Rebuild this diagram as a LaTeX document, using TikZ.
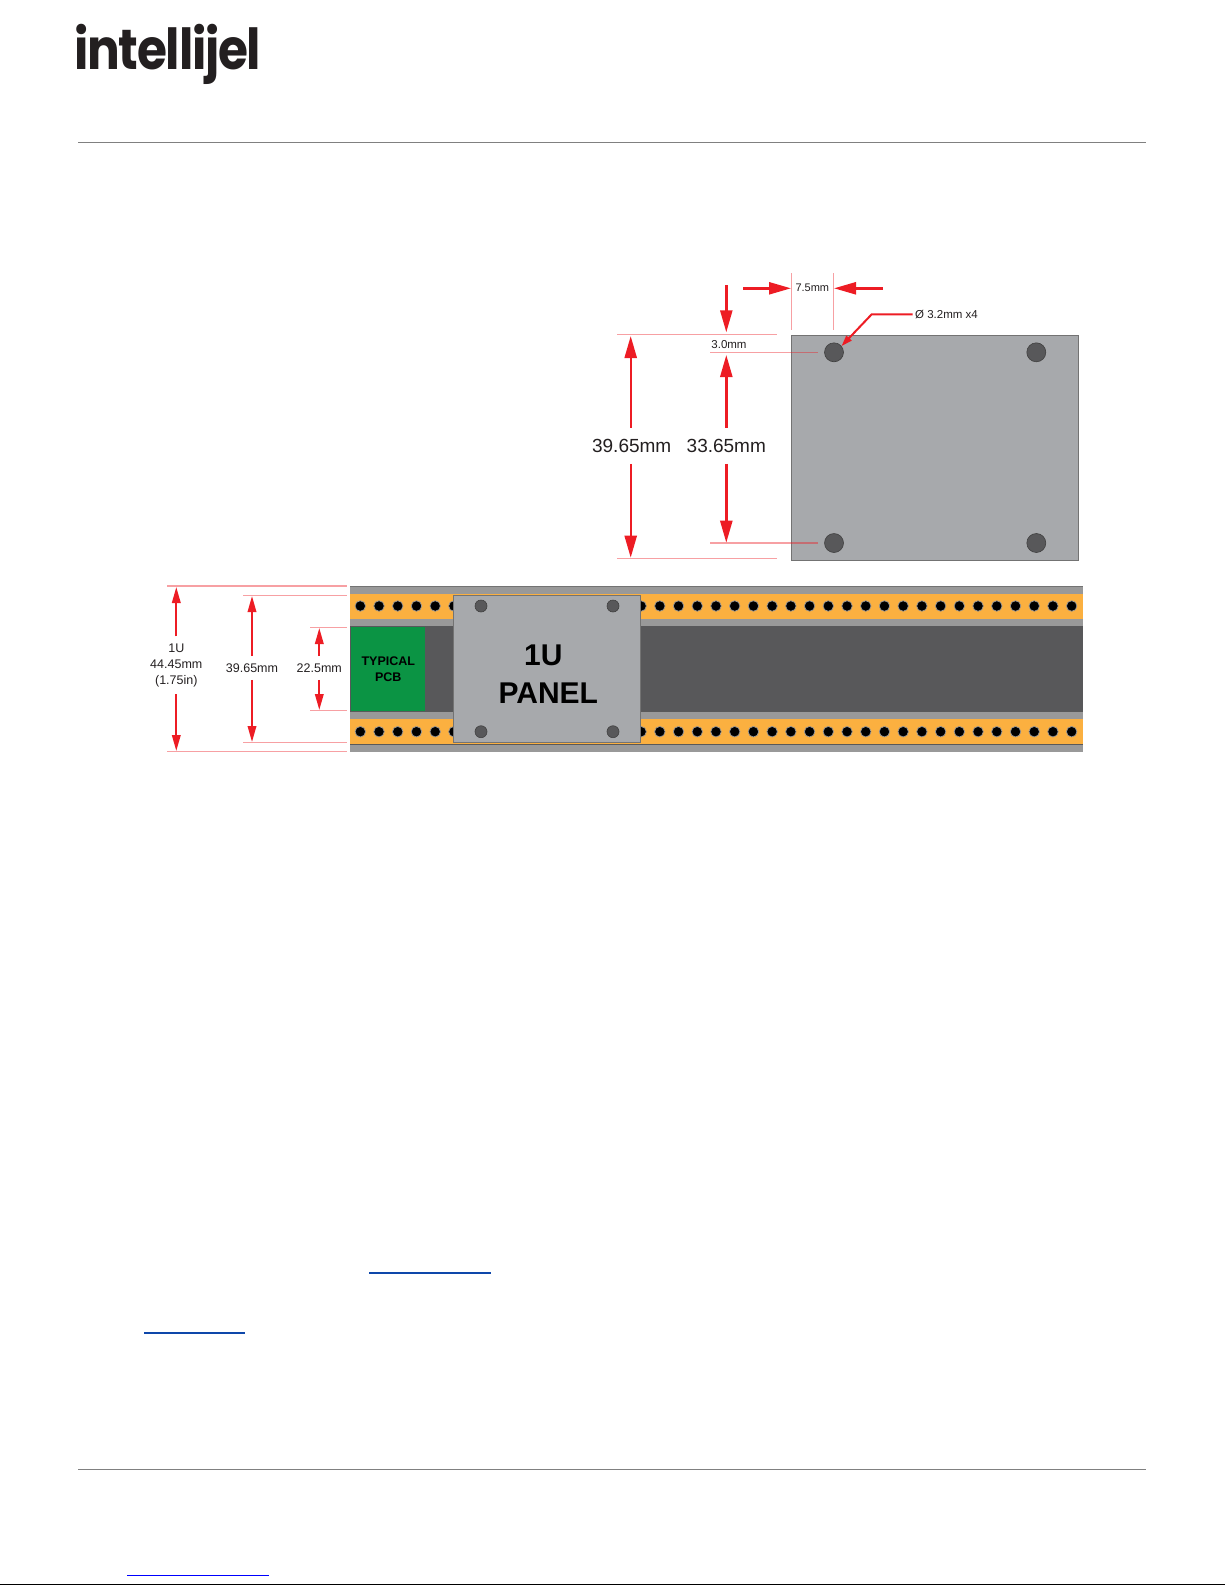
\documentclass[tikz,border=0pt]{standalone}
\usepackage{fontspec}
\usepackage{xcolor}
\usepackage{tikz}
\usetikzlibrary{arrows.meta}
\setmainfont{Liberation Sans}
\newfontfamily\logofont[FakeStretch=0.86,LetterSpace=-2.2]{Poppins}
\definecolor{dimred}{HTML}{ED1C24}
\definecolor{panelgrey}{HTML}{A7A9AC}
\definecolor{railgrey}{HTML}{999999}
\definecolor{railorange}{HTML}{FBB040}
\definecolor{caseDark}{HTML}{58585A}
\definecolor{pcbgreen}{HTML}{0B9444}
\definecolor{inkdark}{HTML}{231F20}
\tikzset{
	dimbig/.style={draw=dimred, line width=2.4pt, -{Triangle[length=22pt,width=12pt]}},
	dimsmall/.style={draw=dimred, line width=1.9pt, -{Triangle[length=16pt,width=8.5pt]}},
	extline/.style={draw=dimred, line width=1.2pt, opacity=0.42},
	lbl/.style={inner sep=0pt, text=inkdark, align=center},
	panelhole/.style={circle, draw=black!75, line width=0.6pt, fill=caseDark, inner sep=0pt},
	railhole/.style={circle, draw=railgrey, line width=0.7pt, fill=black, inner sep=0pt, minimum size=10.5pt}
}
\begin{document}
\begin{tikzpicture}[x=1pt,y=-1pt]
			\useasboundingbox (0,0) rectangle (1225,1585);
			\node[inner sep=0pt, anchor=base west, text=inkdark] at (74,69.3) (logo){\logofont\fontsize{56.5}{58}\selectfont\bfseries intellijel};
			\coordinate (ruleAl) at (78,142.7);
			\coordinate (ruleAr) at (1146,142.7);
			\coordinate (ruleBl) at (78,1469.3);
			\coordinate (ruleBr) at (1146,1469.3);
			\draw[black!50, line width=1.2pt] (ruleAl) -- (ruleAr);
			\draw[black!50, line width=1.2pt] (ruleBl) -- (ruleBr);
			\fill[panelgrey, draw=black!55, line width=0.8pt] (791.3,335.3) rectangle (1078.3,560);
			\node[panelhole, minimum size=19pt] at (834,352.3) (holeA){};
			\node[panelhole, minimum size=19pt] at (1036.3,352.3) (holeB){};
			\node[panelhole, minimum size=19pt] at (834,543) (holeC){};
			\node[panelhole, minimum size=19pt] at (1036.3,543) (holeD){};
			\coordinate (extAt) at (791.3,273);
			\coordinate (extAb) at (791.3,330);
			\coordinate (extBt) at (833.7,273);
			\coordinate (extBb) at (833.7,330);
			\coordinate (topAl) at (617,334.7);
			\coordinate (topAr) at (776.7,334.7);
			\coordinate (botAl) at (617,558.3);
			\coordinate (botAr) at (776.7,558.3);
			\coordinate (topBl) at (710,352.3);
			\coordinate (topBr) at (818.3,352.3);
			\coordinate (botBl) at (710,543);
			\coordinate (botBr) at (818.3,543);
			\draw[extline] (extAt) -- (extAb);
			\draw[extline] (extBt) -- (extBb);
			\draw[extline] (topAl) -- (topAr);
			\draw[extline] (botAl) -- (botAr);
			\draw[extline] (topBl) -- (topBr);
			\draw[extline] (botBl) -- (botBr);
			\node[lbl, minimum height=36pt, font=\fontsize{19}{19}\selectfont] at (631.7,445.7) (wholeA){39.65mm};
			\node[lbl, minimum height=36pt, font=\fontsize{19}{19}\selectfont] at (726.3,445.7) (holesA){33.65mm};
			\coordinate (wholeAt) at (630.7,336);
			\coordinate (wholeAb) at (630.7,557.7);
			\coordinate (holesAt) at (726.3,355);
			\coordinate (holesAb) at (726.3,542.7);
			\draw[dimbig] (wholeA.north -| wholeAt) -- (wholeAt);
			\draw[dimbig] (wholeA.south -| wholeAb) -- (wholeAb);
			\draw[dimbig] (holesA.north) -- (holesAt);
			\draw[dimbig] (holesA.south) -- (holesAb);
			\node[lbl, font=\fontsize{11.5}{11.5}\selectfont] at (729,344.7) (edgeLbl){3.0mm};
			\coordinate (edgeS) at (726.3,285);
			\coordinate (edgeE) at (726.3,332.3);
			\draw[dimbig] (edgeS) -- (edgeE);
			\node[lbl, font=\fontsize{11}{11}\selectfont] at (812.3,288) (sideLbl){7.5mm};
			\coordinate (sideAs) at (743,288.3);
			\coordinate (sideAe) at (791,288.3);
			\coordinate (sideBs) at (882.7,288.3);
			\coordinate (sideBe) at (834,288.3);
			\draw[dimbig] (sideAs) -- (sideAe);
			\draw[dimbig] (sideBs) -- (sideBe);
			\node[lbl, font=\fontsize{11.5}{11.5}\selectfont, anchor=west] at (915,314.3) (drillLbl){Ø 3.2mm x4};
			\coordinate (drillS) at (912.7,314.3);
			\coordinate (drillBend) at (871.7,314.3);
			\draw[draw=dimred, line width=2pt, -{Triangle[length=11pt,width=7pt]}] (drillS) -- (drillBend) -- (holeA.40);
			\fill[railgrey] (350,586) rectangle (1082.7,752);
			\fill[railorange] (350,594) rectangle (1082.7,619);
			\fill[railorange] (350,719.3) rectangle (1082.7,744);
			\fill[caseDark] (350,626) rectangle (1082.7,711.3);
			\draw[black!55, line width=0.8pt] (350,586) -- (1082.7,586);
			\draw[black!65, line width=0.8pt] (350,744) -- (1082.7,744);
			\draw[black!65, line width=0.8pt] (350,711.3) -- (1082.7,711.3);
			\foreach \i in {0,...,38}{
				\node[railhole] at ({360.3+18.72*\i},606) (railt\i){};
				\node[railhole] at ({360.3+18.72*\i},731.7) (railb\i){};
			}
			\node[lbl, fill=pcbgreen, minimum width=74pt, minimum height=84pt, text=black, font=\fontsize{12.5}{15.3}\selectfont\bfseries] at (388.3,669.2) (pcb){TYPICAL\\PCB};
			\fill[panelgrey, draw=black!55, line width=0.8pt] (453.7,595.3) rectangle (640.7,742.7);
			\node[panelhole, minimum size=12pt] at (481,606) (miniA){};
			\node[panelhole, minimum size=12pt] at (613,606) (miniB){};
			\node[panelhole, minimum size=12pt] at (481,731.7) (miniC){};
			\node[panelhole, minimum size=12pt] at (613,731.7) (miniD){};
			\node[inner sep=0pt, text=black, font=\fontsize{30}{30}\selectfont\bfseries] at (543.3,655) (panelA){1U};
			\node[inner sep=0pt, text=black, font=\fontsize{30}{30}\selectfont\bfseries] at (548.3,692.7) (panelB){PANEL};
			\coordinate (uTl) at (167.3,586);
			\coordinate (uTr) at (346.7,586);
			\coordinate (uBl) at (167.3,751.3);
			\coordinate (uBr) at (346.7,751.3);
			\coordinate (mTl) at (243.3,595.3);
			\coordinate (mTr) at (346.7,595.3);
			\coordinate (mBl) at (243.3,742.3);
			\coordinate (mBr) at (346.7,742.3);
			\coordinate (nTl) at (310,627.3);
			\coordinate (nTr) at (346.7,627.3);
			\coordinate (nBl) at (310,710.3);
			\coordinate (nBr) at (346.7,710.3);
			\draw[extline] (uTl) -- (uTr);
			\draw[extline] (uBl) -- (uBr);
			\draw[extline] (mTl) -- (mTr);
			\draw[extline] (mBl) -- (mBr);
			\draw[extline] (nTl) -- (nTr);
			\draw[extline] (nBl) -- (nBr);
			\node[lbl, minimum height=57.3pt, font=\fontsize{12.5}{16}\selectfont] at (176.3,665.3) (unitLbl){1U\\44.45mm\\(1.75in)};
			\node[lbl, minimum height=23.4pt, font=\fontsize{12.5}{16}\selectfont] at (252,668) (holeLbl){39.65mm};
			\node[lbl, minimum height=23.4pt, font=\fontsize{12.5}{16}\selectfont] at (319.3,668) (pcbLbl){22.5mm};
			\coordinate (unitT) at (176.3,587);
			\coordinate (unitB) at (176.3,751);
			\coordinate (holeT) at (252,596);
			\coordinate (holeB) at (252,742);
			\coordinate (pcbT) at (319.3,628);
			\coordinate (pcbB) at (319.3,710);
			\draw[dimsmall] (unitLbl.north) -- (unitT);
			\draw[dimsmall] (unitLbl.south) -- (unitB);
			\draw[dimsmall] (holeLbl.north) -- (holeT);
			\draw[dimsmall] (holeLbl.south) -- (holeB);
			\draw[dimsmall] (pcbLbl.north) -- (pcbT);
			\draw[dimsmall] (pcbLbl.south) -- (pcbB);
			\coordinate (linkAl) at (369,1273);
			\coordinate (linkAr) at (491,1273);
			\coordinate (linkBl) at (144,1333);
			\coordinate (linkBr) at (245,1333);
			\coordinate (linkCl) at (127,1575);
			\coordinate (linkCr) at (269,1575);
			\coordinate (edgeL) at (0,1584.5);
			\coordinate (edgeR) at (1224.7,1584.5);
			\draw[color={rgb:red,17;green,85;blue,204}, line width=2pt] (linkAl) -- (linkAr);
			\draw[color={rgb:red,17;green,85;blue,204}, line width=2pt] (linkBl) -- (linkBr);
			\draw[color={rgb:red,0;green,0;blue,204}, line width=1pt] (linkCl) -- (linkCr);
			\draw[black, line width=1.5pt] (edgeL) -- (edgeR);
		\end{tikzpicture}
\end{document}
